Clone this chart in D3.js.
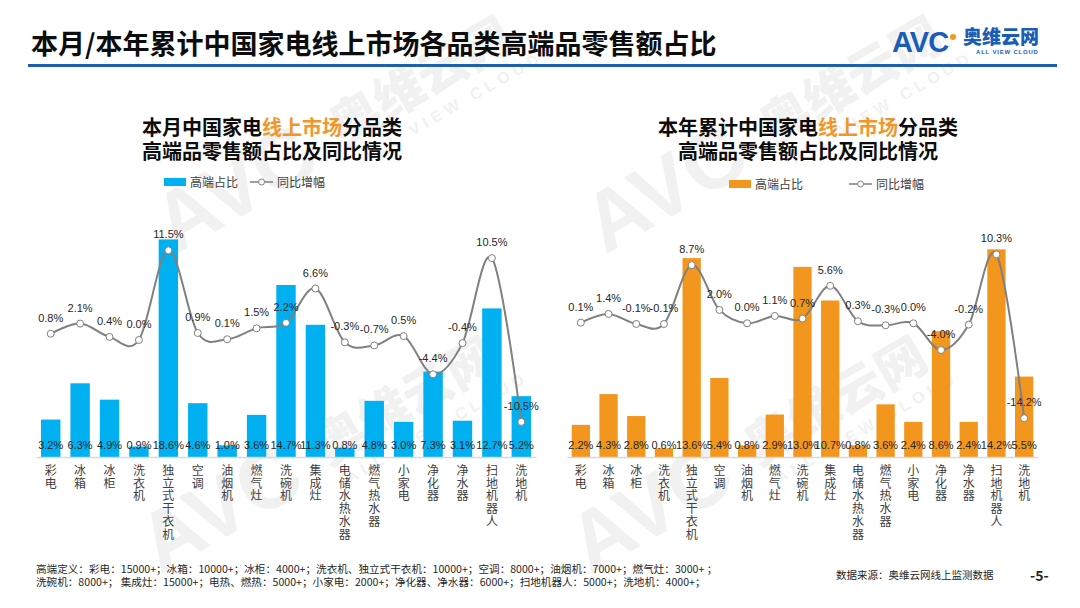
<!DOCTYPE html>
<html><head><meta charset="utf-8">
<script src="https://cdn.jsdelivr.net/npm/d3@7"></script>
<style>
html,body{margin:0;padding:0;background:#fff;}
svg{display:block;font-family:"Noto Sans CJK SC","Noto Sans",sans-serif;}
</style></head>
<body><svg id="c" width="1080" height="608"></svg>
<script>
const categories = ["彩电","冰箱","冰柜","洗衣机","独立式干衣机","空调","油烟机","燃气灶","洗碗机","集成灶","电储水热水器","燃气热水器","小家电","净化器","净水器","扫地机器人","洗地机"];
const monthShare = [3.2,6.3,4.9,0.9,18.6,4.6,1.0,3.6,14.7,11.3,0.8,4.8,3.0,7.3,3.1,12.7,5.2];
const monthYoY   = [0.8,2.1,0.4,0.0,11.5,0.9,0.1,1.5,2.2,6.6,-0.3,-0.7,0.5,-4.4,-0.4,10.5,-10.5];
const ytdShare   = [2.2,4.3,2.8,0.6,13.6,5.4,0.8,2.9,13.0,10.7,0.8,3.6,2.4,8.6,2.4,14.2,5.5];
const ytdYoY     = [0.1,1.4,-0.1,-0.1,8.7,2.0,0.0,1.1,0.7,5.6,0.3,-0.3,0.0,-4.0,-0.2,10.3,-14.2];
const legendLabels = ["高端占比","同比增幅"];
const mainTitle = "本月/本年累计中国家电线上市场各品类高端品零售额占比";
const footLines = ["高端定义：彩电：15000+；冰箱：10000+；冰柜：4000+；洗衣机、独立式干衣机：10000+；空调：8000+；油烟机：7000+；燃气灶：3000+ ；",
                   "洗碗机：8000+；  集成灶：15000+；电热、燃热：5000+；小家电：2000+；净化器、净水器：6000+；扫地机器人：5000+；洗地机：4000+；"];

const svg = d3.select("#c");

// faint watermarks
function watermark(x, y) {
  const g = svg.append("g").attr("transform", `translate(${x},${y}) rotate(-30)`).attr("fill", "#f1f1f1");
  g.append("text").attr("x", 0).attr("y", 0).attr("font-size", 84).attr("font-weight", 900)
    .attr("font-family", "Liberation Sans, sans-serif").text("AVC");
  g.append("text").attr("x", 200).attr("y", -10).attr("font-size", 50).attr("font-weight", 900).text("奥维云网");
  g.append("text").attr("x", 210).attr("y", 16).attr("font-size", 16).attr("font-weight", 700)
    .attr("font-family", "Liberation Sans, sans-serif").attr("letter-spacing", 5).text("ALL VIEW CLOUD");
}
watermark(175, 255);
watermark(605, 255);
watermark(160, 575);
watermark(590, 575);

// header
svg.append("text").attr("x", 31).attr("y", 54).attr("font-size", 27).attr("font-weight", 700)
  .attr("fill", "#0d0d0d").text(mainTitle);
svg.append("rect").attr("x", 28).attr("y", 64).attr("width", 1029).attr("height", 3).attr("fill", "#1f5fb0");

// logo
const logo = svg.append("g");
logo.append("text").attr("x", 892).attr("y", 52).attr("font-size", 29).attr("font-weight", 900)
  .attr("font-family", "Liberation Sans, sans-serif").attr("letter-spacing", -1).attr("fill", "#1a5db7").text("AVC");
logo.append("circle").attr("cx", 953).attr("cy", 37).attr("r", 3).attr("fill", "#f39a1e");
logo.append("text").attr("x", 963).attr("y", 44).attr("font-size", 19).attr("font-weight", 900).attr("fill", "#1a5db7").text("奥维云网");
logo.append("text").attr("x", 976).attr("y", 54).attr("font-size", 6).attr("font-weight", 700)
  .attr("font-family", "Liberation Sans, sans-serif").attr("fill", "#1a5db7").attr("letter-spacing", 0.8).text("ALL VIEW CLOUD");

function drawChart(cfg) {
  const g = svg.append("g");
  const t1 = g.append("text").attr("x", cfg.cx).attr("y", 135).attr("text-anchor", "middle")
    .attr("font-size", 20).attr("font-weight", 700).attr("fill", "#0d0d0d");
  t1.append("tspan").text(cfg.titlePre);
  t1.append("tspan").attr("fill", "#f0962a").text("线上市场");
  t1.append("tspan").text("分品类");
  g.append("text").attr("x", cfg.cx).attr("y", 159).attr("text-anchor", "middle")
    .attr("font-size", 20).attr("font-weight", 700).attr("fill", "#0d0d0d").text("高端品零售额占比及同比情况");

  const lg = g.append("g").attr("transform", `translate(${cfg.legX},${cfg.legY})`);
  lg.append("rect").attr("x", 0).attr("y", -4).attr("width", 22).attr("height", 8).attr("fill", cfg.color);
  lg.append("text").attr("x", 26).attr("y", 4.5).attr("font-size", 12).attr("fill", "#404040").text(legendLabels[0]);
  lg.append("line").attr("x1", cfg.legGap).attr("x2", cfg.legGap + 23).attr("y1", 0).attr("y2", 0)
    .attr("stroke", "#808080").attr("stroke-width", 1.5);
  lg.append("circle").attr("cx", cfg.legGap + 11.5).attr("cy", 0).attr("r", 3).attr("fill", "#fff").attr("stroke", "#808080");
  lg.append("text").attr("x", cfg.legGap + 27).attr("y", 4.5).attr("font-size", 12).attr("fill", "#404040").text(legendLabels[1]);

  const x = d3.scaleBand().domain(categories).range(cfg.xr).paddingInner(0.34).paddingOuter(0.17);
  const yBar = d3.scaleLinear().domain(cfg.barDom).range([457, 223]);
  const yLine = d3.scaleLinear().domain(cfg.lineDom).range([457, 223]);
  const cxf = c => x(c) + x.bandwidth() / 2;

  g.append("g").selectAll("rect").data(categories).join("rect")
    .attr("x", c => x(c)).attr("width", x.bandwidth())
    .attr("y", (c, i) => yBar(cfg.share[i])).attr("height", (c, i) => yBar(0) - yBar(cfg.share[i]))
    .attr("fill", cfg.color);

  const ax = g.append("g").attr("transform", "translate(0,457)")
    .call(d3.axisBottom(x).tickSize(0).tickPadding(0));
  ax.select(".domain").attr("stroke", "#d9d9d9").attr("stroke-width", 1.5);
  ax.selectAll(".tick text").each(function(d) {
    const t = d3.select(this).text(null).attr("font-size", 12).attr("fill", "#404040")
      .attr("font-family", "Noto Sans CJK SC, sans-serif").attr("y", 0).attr("dy", null);
    Array.from(d).forEach((ch, k) => {
      t.append("tspan").attr("x", 0).attr("y", 18 + k * 12.7).text(ch);
    });
  });

  g.append("g").selectAll("text").data(categories).join("text")
    .attr("x", cxf).attr("y", 449).attr("text-anchor", "middle")
    .attr("font-size", 11).attr("font-family", "Liberation Sans, sans-serif").attr("fill", "#262626")
    .text((c, i) => cfg.share[i].toFixed(1) + "%");

  const pts = categories.map((c, i) => [cxf(c), yLine(cfg.yoy[i])]);
  g.append("path").attr("d", d3.line().curve(d3.curveCardinal.tension(0))(pts))
    .attr("fill", "none").attr("stroke", "#808080").attr("stroke-width", 2);
  g.append("g").selectAll("circle").data(pts).join("circle")
    .attr("cx", d => d[0]).attr("cy", d => d[1]).attr("r", 3.5)
    .attr("fill", "#fff").attr("stroke", "#808080").attr("stroke-width", 1);
  g.append("g").selectAll("text").data(categories).join("text")
    .attr("x", cxf).attr("y", (c, i) => yLine(cfg.yoy[i]) - 12).attr("text-anchor", "middle")
    .attr("font-size", 11).attr("font-family", "Liberation Sans, sans-serif").attr("fill", "#262626")
    .text((c, i) => cfg.yoy[i].toFixed(1) + "%");
}

drawChart({cx: 272, titlePre: "本月中国家电", color: "#00b0f0", share: monthShare, yoy: monthYoY,
  xr: [36, 536], barDom: [0, 20], lineDom: [-15, 15], legX: 164, legY: 182, legGap: 86});
drawChart({cx: 808, titlePre: "本年累计中国家电", color: "#f2961e", share: ytdShare, yoy: ytdYoY,
  xr: [567, 1038], barDom: [0, 16], lineDom: [-20, 15], legX: 729, legY: 184, legGap: 120});

footLines.forEach((l, i) => {
  svg.append("text").attr("x", 36).attr("y", 573 + i * 13).attr("font-size", 10.6).attr("fill", "#262626").text(l);
});
svg.append("text").attr("x", 836).attr("y", 579).attr("font-size", 10.5).attr("fill", "#262626").text("数据来源：奥维云网线上监测数据");
svg.append("text").attr("x", 1030).attr("y", 581).attr("font-size", 14).attr("font-weight", 700).attr("fill", "#262626").text("-5-");
</script></body></html>
